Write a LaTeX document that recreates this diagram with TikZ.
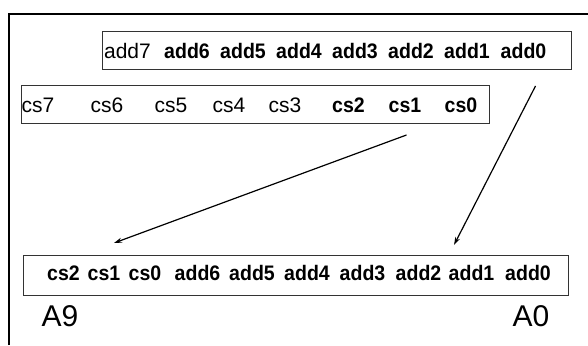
\documentclass[tikz,border=0pt]{standalone}
\usepackage{fontspec}
\setmainfont{Liberation Sans}
\usetikzlibrary{arrows.meta}
\begin{document}
\begin{tikzpicture}[x=1pt,y=-1pt,
  box/.style={draw=black!80,line width=1pt,inner sep=0pt},
  reg/.style={anchor=base,inner sep=0pt,font=\fontsize{21}{25}\selectfont},
  bld/.style={anchor=base,inner sep=0pt,font=\fontsize{21}{25}\selectfont\bfseries},
  big/.style={anchor=base,inner sep=0pt,font=\fontsize{30}{34}\selectfont},
  arr/.style={line width=1.2pt,-{Stealth[length=8pt,width=5pt]}}]
\useasboundingbox (0,0) rectangle (588,345);
% outer frame
\draw[line width=2pt] (9,345) -- (9,14) -- (588,14);
% boxes
\node[box,minimum width=469pt,minimum height=37pt] (topbox) at (336.5,50.5) {};
\node[box,minimum width=468pt,minimum height=38pt] (csbox) at (255,104) {};
\node[box,minimum width=545pt,minimum height=40pt] (botbox) at (295.5,275) {};
% top row
\node[reg] (t7) at (127.5,58) {add7};
\node[bld] (t6) at (187,58) {\scalebox{0.93}[1]{add6}};
\node[bld] (t5) at (243,58) {\scalebox{0.93}[1]{add5}};
\node[bld] (t4) at (299,58) {\scalebox{0.93}[1]{add4}};
\node[bld] (t3) at (355,58) {\scalebox{0.93}[1]{add3}};
\node[bld] (t2) at (411,58) {\scalebox{0.93}[1]{add2}};
\node[bld] (t1) at (467,58) {\scalebox{0.93}[1]{add1}};
\node[bld] (t0) at (523.5,58) {\scalebox{0.93}[1]{add0}};
% cs row
\node[reg] (c7) at (38,112) {cs7};
\node[reg] (c6) at (107,112) {cs6};
\node[reg] (c5) at (171,112) {cs5};
\node[reg] (c4) at (229,112) {cs4};
\node[reg] (c3) at (285,112) {cs3};
\node[bld] (c2) at (348.5,112) {\scalebox{0.93}[1]{cs2}};
\node[bld] (c1) at (405,112) {\scalebox{0.93}[1]{cs1}};
\node[bld] (c0) at (461,112) {\scalebox{0.93}[1]{cs0}};
% bottom row
\node[bld] (b9) at (63.5,280) {\scalebox{0.93}[1]{cs2}};
\node[bld] (b8) at (104,280) {\scalebox{0.93}[1]{cs1}};
\node[bld] (b7) at (145,280) {\scalebox{0.93}[1]{cs0}};
\node[bld] (b6) at (197.5,280) {\scalebox{0.93}[1]{add6}};
\node[bld] (b5) at (252,280) {\scalebox{0.93}[1]{add5}};
\node[bld] (b4) at (307,280) {\scalebox{0.93}[1]{add4}};
\node[bld] (b3) at (362.5,280) {\scalebox{0.93}[1]{add3}};
\node[bld] (b2) at (418.5,280) {\scalebox{0.93}[1]{add2}};
\node[bld] (b1) at (471.5,280) {\scalebox{0.93}[1]{add1}};
\node[bld] (b0) at (528,280) {\scalebox{0.93}[1]{add0}};
% labels
\node[big] (a9) at (60,326) {A9};
\node[big] (a0) at (531,326) {A0};
% arrows
\coordinate (s1) at (406.5,135);
\coordinate (e1) at (114,243);
\coordinate (s2) at (535.5,86);
\coordinate (e2) at (454,245);
\draw[arr] (s1) -- (e1);
\draw[arr] (s2) -- (e2);
\end{tikzpicture}
\end{document}
